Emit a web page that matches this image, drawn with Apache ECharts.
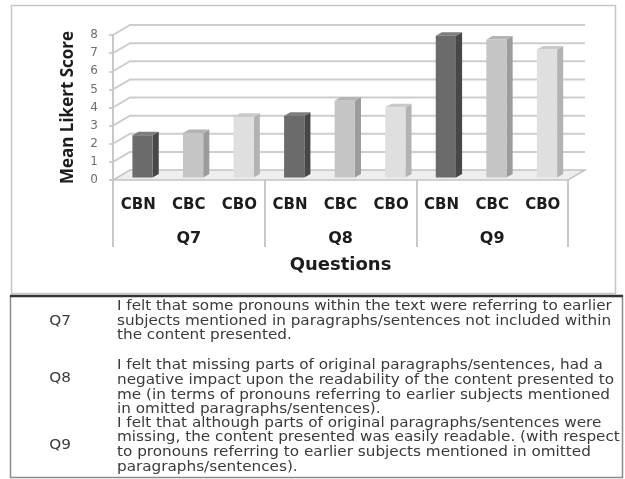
<!DOCTYPE html>
<html>
<head>
<meta charset="utf-8">
<script src="https://cdn.jsdelivr.net/npm/echarts@6/dist/echarts.min.js"></script>
<style>
  html, body { margin: 0; padding: 0; background: #ffffff; }
  #chart { width: 625px; height: 479px; }
</style>
</head>
<body>
<div id="chart"></div>
<script>
// Conditions within each question group
const conditions = ['CBN', 'CBC', 'CBO'];
// Question groups shown under the bars
const questions = ['Q7', 'Q8', 'Q9'];
// One category per condition inside every question
const categories = ['CBN', 'CBC', 'CBO', 'CBN', 'CBC', 'CBO', 'CBN', 'CBC', 'CBO'];
// Mean Likert score per condition, ordered Q7, Q8, Q9
const cbnScores = [2.33, 3.40, 7.82];
const cbcScores = [2.45, 4.24, 7.61];
const cboScores = [3.34, 3.87, 7.06];
// Value axis ticks
const yTicks = [0, 1, 2, 3, 4, 5, 6, 7, 8];
// Statement wording for each question, one entry per printed line
const q7Lines = [
  'I felt that some pronouns within the text were referring to earlier',
  'subjects mentioned in paragraphs/sentences not included within',
  'the content presented.'
];
const q8Lines = [
  'I felt that missing parts of original paragraphs/sentences, had a',
  'negative impact upon the readability of the content presented to',
  'me (in terms of pronouns referring to earlier subjects mentioned',
  'in omitted paragraphs/sentences).'
];
const q9Lines = [
  'I felt that although parts of original paragraphs/sentences were',
  'missing, the content presented was easily readable. (with respect',
  'to pronouns referring to earlier subjects mentioned in omitted',
  'paragraphs/sentences).'
];

// Oblique depth of the floor / walls
const DX = 17, DY = -10;
const GRID_COLOR = '#cdcdcd';

// Bar shading: front, side, top
const barShades = [
  { front: '#6b6b6b', side: '#474747', top: '#7d7d7d' },
  { front: '#c5c5c5', side: '#9c9c9c', top: '#b4b4b4' },
  { front: '#dfdfdf', side: '#b3b3b3', top: '#cacaca' }
];

const scoreSets = [cbnScores, cbcScores, cboScores];

function wallRender(params, api) {
  const cs = params.coordSys;
  const v = api.value(1);
  const y = api.coord([0, v])[1];
  const x0 = cs.x, x1 = cs.x + cs.width;
  const kids = [];
  if (v === 0) {
    kids.push({
      type: 'polygon',
      shape: { points: [[x0, y], [x1, y], [x1 + DX, y + DY], [x0 + DX, y + DY]] },
      style: { fill: '#eeeeee', stroke: '#c4c4c4', lineWidth: 1.5 }
    });
  } else {
    kids.push({
      type: 'polyline',
      shape: { points: [[x0, y], [x0 + DX, y + DY], [x1 + DX, y + DY]] },
      style: { fill: null, stroke: GRID_COLOR, lineWidth: 2 }
    });
  }
  return { type: 'group', children: kids };
}

function makeBarRender(shade) {
  return function (params, api) {
    const idx = api.value(0), v = api.value(1);
    const top = api.coord([idx, v]);
    const base = api.coord([idx, 0]);
    const band = api.size([1, 0])[0];
    const w = band * 0.4;
    const ox = DX * 0.25, oy = DY * 0.25;   // front face sits a quarter into the floor
    const bx = DX * 0.36, by = DY * 0.36;   // bar depth
    const xl = top[0] - w / 2 + ox, xr = xl + w;
    const yt = top[1] + oy, yb = base[1] + oy;
    return {
      type: 'group',
      children: [
        { type: 'polygon', shape: { points: [[xr, yb], [xr, yt], [xr + bx, yt + by], [xr + bx, yb + by]] },
          style: { fill: shade.side } },
        { type: 'polygon', shape: { points: [[xl, yt], [xr, yt], [xr + bx, yt + by], [xl + bx, yt + by]] },
          style: { fill: shade.top } },
        { type: 'rect', shape: { x: xl, y: yt, width: w, height: yb - yt },
          style: { fill: shade.front } }
      ]
    };
  };
}

const barSeries = conditions.map((name, s) => ({
  name: name,
  type: 'custom',
  xAxisIndex: 0,
  yAxisIndex: 0,
  z: 5,
  clip: false,
  renderItem: makeBarRender(barShades[s]),
  data: scoreSets[s].map((v, g) => [g * conditions.length + s, v])
}));

// Statement table typography (wide set, like the printed questionnaire)
const tableFontSize = 13.2;
const tableStretch = 1.155;
const tableColor = '#3a3a3a';
const lineH = 14.6;

function qLabel(text, y) {
  return {
    type: 'text', x: 60, y: y, z: 10, scaleX: tableStretch,
    style: { text: text, fontFamily: 'DejaVu Sans', fontSize: tableFontSize, fill: tableColor,
             align: 'center', verticalAlign: 'middle' }
  };
}
function qText(lines, y) {
  return {
    type: 'text', x: 117, y: y, z: 10, scaleX: tableStretch,
    style: { text: lines.join('\n'), fontFamily: 'DejaVu Sans', fontSize: tableFontSize, fill: tableColor,
             lineHeight: lineH, align: 'left', verticalAlign: 'top' }
  };
}

const option = {
  backgroundColor: '#ffffff',
  animation: false,
  grid: { left: 113, right: 57, top: 35, bottom: 299 },
  xAxis: [
    {
      type: 'category',
      data: categories,
      position: 'bottom',
      axisLine: { show: false },
      axisTick: { show: false },
      axisLabel: {
        margin: 18,
        color: '#1c1c1c',
        fontFamily: 'DejaVu Sans',
        fontWeight: 'bold',
        fontSize: 15
      }
    },
    {
      type: 'category',
      data: questions,
      position: 'bottom',
      axisLine: { show: false },
      axisTick: { show: true, length: 67, lineStyle: { color: '#c8c8c8', width: 2 } },
      axisLabel: {
        margin: 51,
        color: '#1c1c1c',
        fontFamily: 'DejaVu Sans',
        fontWeight: 'bold',
        fontSize: 16
      },
      name: 'Questions',
      nameLocation: 'middle',
      nameGap: 76,
      nameTextStyle: {
        color: '#1c1c1c',
        fontFamily: 'DejaVu Sans',
        fontWeight: 'bold',
        fontSize: 18
      }
    }
  ],
  yAxis: {
    type: 'value',
    min: 0,
    max: 8,
    interval: 1,
    axisLine: { show: true, lineStyle: { color: '#c8c8c8', width: 2 } },
    axisTick: { show: true, length: 4, lineStyle: { color: '#c0c0c0', width: 1.5 } },
    splitLine: { show: false },
    axisLabel: {
      margin: 15,
      color: '#6e6e6e',
      fontFamily: 'DejaVu Sans',
      fontSize: 12
    },
    name: 'Mean Likert Score',
    nameLocation: 'middle',
    nameGap: 36,
    nameTextStyle: {
      color: '#1c1c1c',
      fontFamily: 'Open Sans',
      fontWeight: 'bold',
      fontSize: 17
    }
  },
  series: [
    {
      name: 'walls',
      type: 'custom',
      xAxisIndex: 0,
      yAxisIndex: 0,
      z: 1,
      silent: true,
      clip: false,
      renderItem: wallRender,
      data: yTicks.map(v => [0, v])
    }
  ].concat(barSeries),
  graphic: [
    { type: 'rect', z: 0, shape: { x: 11.5, y: 5.5, width: 604, height: 288 },
      style: { fill: null, stroke: '#c6c6c6', lineWidth: 1.5 } },
    { type: 'rect', z: 0, shape: { x: 10.5, y: 296, width: 612, height: 181.5 },
      style: { fill: null, stroke: '#8c8c8c', lineWidth: 1.5 } },
    { type: 'line', z: 1, shape: { x1: 10, y1: 296, x2: 623, y2: 296 },
      style: { stroke: '#333333', lineWidth: 2.5 } },
    qLabel(questions[0], 321.7),
    qLabel(questions[1], 379),
    qLabel(questions[2], 445.7),
    qText(q7Lines, 299.4),
    qText(q8Lines, 358.7),
    qText(q9Lines, 416)
  ]
};

const chart = echarts.init(document.getElementById('chart'), null, { renderer: 'canvas' });
chart.setOption(option);
</script>
</body>
</html>
